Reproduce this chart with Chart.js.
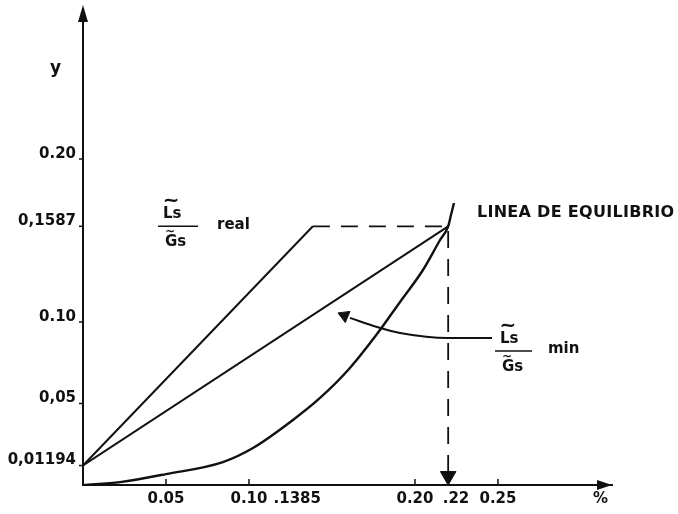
<!DOCTYPE html>
<html>
<head>
<meta charset="utf-8">
<script src="https://cdn.jsdelivr.net/npm/chart.js@4/dist/chart.umd.min.js"></script>
<style>
  html, body { margin: 0; padding: 0; background: #fff; }
  #wrap { width: 678px; height: 514px; position: relative; }
</style>
</head>
<body>
<div id="wrap"><canvas id="c"></canvas></div>
<script>
// Equilibrium curve (x = liquid ratio, y = gas ratio)
const eqX = [0, 0.0223, 0.05, 0.0843, 0.1024, 0.1265, 0.1428, 0.1608, 0.1771, 0.191, 0.2048, 0.2151, 0.22, 0.2217, 0.2235];
const eqY = [0, 0.0018, 0.0067, 0.0141, 0.0227, 0.0399, 0.0534, 0.0718, 0.0926, 0.1123, 0.1319, 0.1503, 0.1587, 0.1656, 0.173];

// Operating lines: both start at (0, yIn) and reach yOut
const yIn = 0.01194;
const yOut = 0.1587;
const xReal = 0.1385;   // real liquid/gas ratio end point
const xMin = 0.22;      // minimum ratio: touches the equilibrium curve

// Pointer from the "min" label to the minimum operating line
const pointerX = [0.1608, 0.1771, 0.191, 0.2199, 0.2464];
const pointerY = [0.1025, 0.0969, 0.0933, 0.0902, 0.0902];

// Axis ticks (spaces nudge the hand-placed labels sideways)
const xTicks = [0.05, 0.10, 0.1385, 0.20, 0.22, 0.25];
const xTickLabels = ['0.05', '0.10', '.1385      ', '0.20', '   .22', '0.25'];
const xTickMarks = [0.05, 0.10, 0.20, 0.25];
const yTicks = [0.01194, 0.05, 0.10, 0.1587, 0.20];
const yTickLabels = ['0,01194', '0,05', '0.10', '0,1587', '0.20'];

const FONT = '"DejaVu Sans", sans-serif';
const INK = '#111';

const pts = (xs, ys) => xs.map((x, i) => ({ x: x, y: ys[i] }));

const line = (data, extra) => Object.assign({
  data: data, showLine: true, borderColor: INK, borderWidth: 2,
  pointRadius: 0, fill: false
}, extra || {});

// Hand-lettered notes, axis arrows and tick marks
const sketch = {
  id: 'sketch',
  afterDraw(chart) {
    const { ctx, chartArea: a, scales: { x, y } } = chart;
    ctx.save();
    ctx.fillStyle = INK;
    ctx.strokeStyle = INK;

    // arrowheads on the axes
    ctx.beginPath();
    ctx.moveTo(a.left, a.top - 5);
    ctx.lineTo(a.left - 5, a.top + 12);
    ctx.lineTo(a.left + 5, a.top + 12);
    ctx.closePath();
    ctx.fill();
    ctx.beginPath();
    ctx.moveTo(a.right, a.bottom);
    ctx.lineTo(a.right - 15, a.bottom - 5);
    ctx.lineTo(a.right - 15, a.bottom + 5);
    ctx.closePath();
    ctx.fill();

    // tick marks
    ctx.lineWidth = 1.5;
    xTickMarks.forEach(v => {
      const px = x.getPixelForValue(v);
      ctx.beginPath(); ctx.moveTo(px, a.bottom); ctx.lineTo(px, a.bottom - 6); ctx.stroke();
    });
    yTicks.forEach(v => {
      const py = y.getPixelForValue(v);
      ctx.beginPath(); ctx.moveTo(a.left - 4, py); ctx.lineTo(a.left, py); ctx.stroke();
    });

    // axis names
    ctx.textAlign = 'left';
    ctx.textBaseline = 'alphabetic';
    ctx.font = 'bold 17px ' + FONT;
    ctx.fillText('y', a.left - 33, a.top + 63);
    ctx.font = 'bold 15px ' + FONT;
    ctx.fillText('%', a.right - 19, a.bottom + 18);

    // curve name
    ctx.font = 'bold 16px ' + FONT;
    if ('letterSpacing' in ctx) ctx.letterSpacing = '0.3px';
    ctx.fillText('LINEA DE EQUILIBRIO', x.getPixelForValue(0.2373), y.getPixelForValue(0.1644));
    if ('letterSpacing' in ctx) ctx.letterSpacing = '0px';

    // Ls/Gs fractions
    const fraction = (vx, vy, barW, word, wordDx, wordDy) => {
      const px = x.getPixelForValue(vx);
      const py = y.getPixelForValue(vy);
      ctx.lineWidth = 1.6;
      ctx.beginPath(); ctx.moveTo(px, py); ctx.lineTo(px + barW, py); ctx.stroke();
      ctx.textAlign = 'center';
      ctx.font = 'bold 20px ' + FONT;
      ctx.fillText('~', px + 13, py - 20);
      ctx.font = 'bold 12px ' + FONT;
      ctx.fillText('~', px + 12, py + 9);
      ctx.textAlign = 'left';
      ctx.font = 'bold 15px ' + FONT;
      ctx.fillText('Ls', px + 5, py - 8);
      ctx.fillText('Gs', px + 7, py + 20);
      ctx.fillText(word, px + wordDx, py + wordDy);
    };
    fraction(0.0452, 0.1587, 40, 'real', 59, 3);
    fraction(0.2482, 0.0822, 37, 'min', 53, 2);

    ctx.restore();
  }
};

new Chart(document.getElementById('c'), {
  type: 'scatter',
  data: {
    datasets: [
      line(pts(eqX, eqY), { label: 'Linea de equilibrio', borderWidth: 2.4, cubicInterpolationMode: 'monotone' }),
      line([{ x: 0, y: yIn }, { x: xReal, y: yOut }], { label: 'Ls/Gs real' }),
      line([{ x: 0, y: yIn }, { x: xMin, y: yOut }], { label: 'Ls/Gs min' }),
      line([{ x: xReal, y: yOut }, { x: xMin, y: yOut }, { x: xMin, y: 0 }],
           { label: 'guia', borderDash: [17, 11], borderWidth: 1.8 }),
      { label: 'flecha', data: [{ x: xMin, y: 0.0055 }], pointStyle: 'triangle', rotation: 180,
        pointRadius: 9, backgroundColor: INK, borderColor: INK, borderWidth: 1, showLine: false },
      line(pts(pointerX, pointerY), { label: 'indicador', cubicInterpolationMode: 'monotone' }),
      { label: 'punta', data: [{ x: 0.1575, y: 0.1039 }], pointStyle: 'triangle', rotation: -67,
        pointRadius: 7, backgroundColor: INK, borderColor: INK, borderWidth: 1, showLine: false }
    ]
  },
  options: {
    responsive: true,
    maintainAspectRatio: false,
    animation: false,
    devicePixelRatio: 1,
    layout: { padding: { top: 0, right: 66, left: 0, bottom: 0 } },
    plugins: { legend: { display: false }, tooltip: { enabled: false } },
    scales: {
      x: {
        type: 'linear', min: 0, max: 0.3187,
        afterBuildTicks: s => { s.ticks = xTicks.map(v => ({ value: v })); },
        afterFit: s => { s.height = 29; s.paddingLeft = 0; s.paddingRight = 0; },
        ticks: {
          autoSkip: false, maxRotation: 0, padding: 5, color: INK,
          font: { family: FONT, weight: 'bold', size: 15 },
          callback: v => xTickLabels[xTicks.indexOf(v)]
        },
        grid: { display: false, drawTicks: false },
        border: { display: true, color: INK, width: 2 }
      },
      y: {
        type: 'linear', min: 0, max: 0.2914,
        afterBuildTicks: s => { s.ticks = yTicks.map(v => ({ value: v })); },
        afterFit: s => { s.width = 83; s.paddingTop = 0; s.paddingBottom = 0; },
        ticks: {
          autoSkip: false, padding: 7, color: INK, labelOffset: -5,
          font: { family: FONT, weight: 'bold', size: 15 },
          callback: v => yTickLabels[yTicks.indexOf(v)]
        },
        grid: { display: false, drawTicks: false },
        border: { display: true, color: INK, width: 2 }
      }
    }
  },
  plugins: [sketch]
});
</script>
</body>
</html>
